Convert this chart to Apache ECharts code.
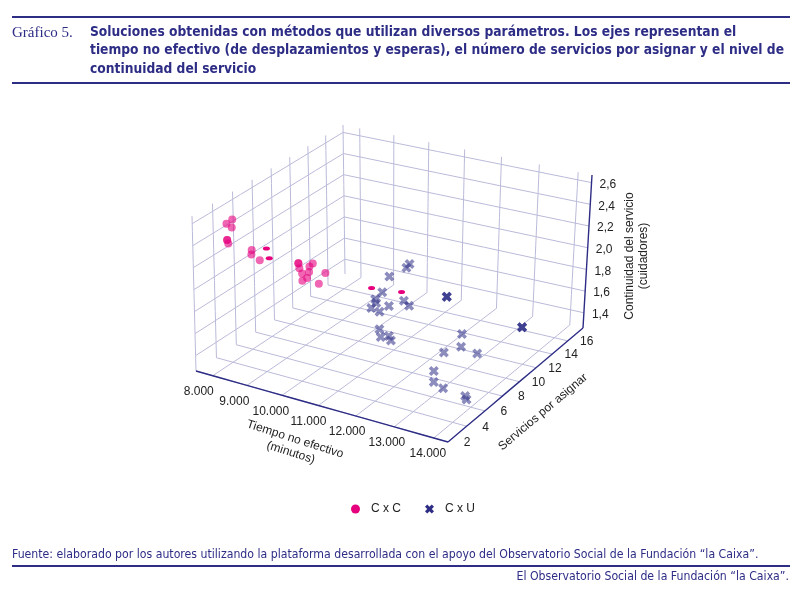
<!DOCTYPE html>
<html>
<head>
<meta charset="utf-8">
<script src="https://cdn.jsdelivr.net/npm/echarts@6/dist/echarts.min.js"></script>
<style>
html, body { margin: 0; padding: 0; background: #fff; }
#chart { width: 800px; height: 591px; }
</style>
</head>
<body>
<div id="chart"></div>
<script>
// C x C: tiempo no efectivo (min), servicios por asignar, continuidad (cuidadores)
var cxcTiempo       = [8180, 8130, 8250, 8200, 8200, 8230, 8490, 8450, 8630, 9170, 9170, 9470, 9170, 9430, 9390, 9220, 9360, 9280, 9690, 9610];
var cxcServicios    = [3.6, 3.2, 3.3, 3.0, 3.0, 3.0, 4.4, 4.5, 4.7, 6.7, 6.7, 7.1, 6.8, 6.9, 7.0, 6.9, 6.9, 6.7, 7.6, 7.2];
var cxcContinuidad  = [2.60, 2.58, 2.55, 2.45, 2.45, 2.42, 2.30, 2.25, 2.20, 2.10, 2.10, 2.10, 2.05, 2.08, 2.02, 2.00, 1.97, 1.95, 2.00, 1.92];
// C x C, puntos que aparecen aplastados
var cxcPlanoTiempo      = [8740, 8760, 10440, 11170];
var cxcPlanoServicios   = [5.0, 5.2, 9.7, 10.1];
var cxcPlanoContinuidad = [2.30, 2.20, 1.80, 1.80];
// C x U
var cxuTiempo      = [10515, 10500, 10140, 10140, 10040, 10170, 10055, 10340, 10530, 10850, 10950, 11930, 11930, 11930, 10540, 10730, 10930, 11040, 12810, 12840, 12640, 13330, 12640, 12830, 13170, 13780, 13840, 13970, 13970, 13970];
var cxuServicios   = [13.7, 13.4, 12.9, 12.1, 11.7, 11.3, 11.2, 11.0, 11.3, 11.7, 11.9, 12.1, 12.1, 12.1, 10.2, 9.6, 9.7, 9.5, 10.1, 9.9, 8.8, 9.6, 7.7, 6.9, 6.5, 6.3, 6.2, 11.9, 11.9, 11.9];
var cxuContinuidad = [1.80, 1.78, 1.70, 1.60, 1.55, 1.55, 1.50, 1.50, 1.55, 1.60, 1.55, 1.70, 1.70, 1.70, 1.40, 1.38, 1.40, 1.38, 1.55, 1.45, 1.45, 1.45, 1.35, 1.32, 1.32, 1.32, 1.30, 1.60, 1.60, 1.60];

var xTicks = [8000, 9000, 10000, 11000, 12000, 13000, 14000];
var xTickLabels = ['8.000', '9.000', '10.000', '11.000', '12.000', '13.000', '14.000'];
var yTicks = [2, 4, 6, 8, 10, 12, 14, 16];
var zTicks = [1.4, 1.6, 1.8, 2.0, 2.2, 2.4, 2.6];
var zTickLabels = ['1,4', '1,6', '1,8', '2,0', '2,2', '2,4', '2,6'];

var X_MIN = 7500, X_MAX = 14350;
var Y_MIN = 2, Y_MAX = 18;
var Z_MIN = 1.26, Z_MAX = 2.67;

var NAVY = '#2e2d86';
var PINK = '#e6007e';
var GRID = '#babad9';
var NARROW = '"Liberation Sans Narrow", "DejaVu Sans Condensed", "Liberation Sans", sans-serif';
var SANS = '"Liberation Sans", Arial, sans-serif';
var CROSS = 'path://M2.5,0 L5,2.5 L7.5,0 L10,2.5 L7.5,5 L10,7.5 L7.5,10 L5,7.5 L2.5,10 L0,7.5 L2.5,5 L0,2.5 Z';

// caja 3D en pantalla: suelo y techo como cuadrilateros en perspectiva
function homography(q) {
    var x0 = q[0][0], y0 = q[0][1], x1 = q[1][0], y1 = q[1][1];
    var x2 = q[2][0], y2 = q[2][1], x3 = q[3][0], y3 = q[3][1];
    var dx1 = x1 - x2, dx2 = x3 - x2, dx3 = x0 - x1 + x2 - x3;
    var dy1 = y1 - y2, dy2 = y3 - y2, dy3 = y0 - y1 + y2 - y3;
    var den = dx1 * dy2 - dx2 * dy1;
    var g = (dx3 * dy2 - dx2 * dy3) / den;
    var h = (dx1 * dy3 - dx3 * dy1) / den;
    var a = x1 - x0 + g * x1, b = x3 - x0 + h * x3;
    var d = y1 - y0 + g * y1, e = y3 - y0 + h * y3;
    return function (u, v) {
        var w = g * u + h * v + 1;
        return [(a * u + b * v + x0) / w, (d * u + e * v + y0) / w];
    };
}
var floorH = homography([[196, 371], [448, 442], [583, 328], [345, 274]]);
var topH = homography([[192, 216], [453, 281], [592, 175], [343, 125]]);

function proj(u, v, w) {
    var p0 = floorH(u, v), p1 = topH(u, v);
    return [p0[0] + w * (p1[0] - p0[0]), p0[1] + w * (p1[1] - p0[1])];
}
function nx(x) { return (x - X_MIN) / (X_MAX - X_MIN); }
function ny(y) { return (y - Y_MIN) / (Y_MAX - Y_MIN); }
function nz(z) { return (z - Z_MIN) / (Z_MAX - Z_MIN); }
function toScreen(x, y, z) { return proj(nx(x), ny(y), nz(z)); }

function points(xs, ys, zs) {
    var out = [];
    for (var i = 0; i < xs.length; i++) out.push(toScreen(xs[i], ys[i], zs[i]));
    return out;
}

function seg(a, b) {
    var pts = [];
    for (var i = 0; i <= 10; i++) {
        var t = i / 10;
        pts.push(proj(a[0] + (b[0] - a[0]) * t, a[1] + (b[1] - a[1]) * t, a[2] + (b[2] - a[2]) * t));
    }
    return { coords: pts };
}

var gridLines = [];
xTicks.forEach(function (x) {
    var u = nx(x);
    gridLines.push(seg([u, 0, 0], [u, 1, 0]));   // suelo
    gridLines.push(seg([u, 1, 0], [u, 1, 1]));   // pared del fondo
});
yTicks.forEach(function (y) {
    var v = ny(y);
    gridLines.push(seg([0, v, 0], [1, v, 0]));   // suelo
    gridLines.push(seg([0, v, 0], [0, v, 1]));   // pared izquierda
});
zTicks.forEach(function (z) {
    var w = nz(z);
    gridLines.push(seg([0, 0, w], [0, 1, w]));
    gridLines.push(seg([0, 1, w], [1, 1, w]));
});
gridLines.push(seg([0, 1, 0], [0, 1, 1]));

var axisLines = [
    seg([0, 0, 0], [1, 0, 0]),
    seg([1, 0, 0], [1, 1, 0]),
    seg([1, 1, 0], [1, 1, 1])
];

var graphics = [];
function text(x, y, str, style, rot) {
    graphics.push({
        type: 'text', x: x, y: y, rotation: rot || 0, silent: true,
        style: Object.assign({ text: str, x: 0, y: 0, verticalAlign: 'middle' }, style)
    });
}
function rule(y) {
    graphics.push({ type: 'rect', silent: true, shape: { x: 12, y: y, width: 778, height: 2 }, style: { fill: NAVY } });
}

// cabecera y pie
rule(16);
rule(82);
rule(565);
text(12, 33, 'Gráfico 5.', { font: '15px "Liberation Serif", "DejaVu Serif", serif', fill: NAVY });
text(90, 32, 'Soluciones obtenidas con métodos que utilizan diversos parámetros. Los ejes representan el', { font: 'bold 13.7px ' + NARROW, fill: NAVY });
text(90, 50.5, 'tiempo no efectivo (de desplazamientos y esperas), el número de servicios por asignar y el nivel de', { font: 'bold 13.7px ' + NARROW, fill: NAVY });
text(90, 69, 'continuidad del servicio', { font: 'bold 13.7px ' + NARROW, fill: NAVY });
text(12, 555, 'Fuente: elaborado por los autores utilizando la plataforma desarrollada con el apoyo del Observatorio Social de la Fundación “la Caixa”.', { font: '12.2px ' + NARROW, fill: NAVY });
text(789, 577, 'El Observatorio Social de la Fundación “la Caixa”.', { font: '12.2px ' + NARROW, fill: NAVY, align: 'right' });

// etiquetas de los ejes
xTicks.forEach(function (x, i) {
    var p = toScreen(x, Y_MIN, Z_MIN);
    text(p[0] - 14 + 8 * i / 6, p[1] + 16, xTickLabels[i], { font: '12px ' + SANS, fill: '#222', align: 'center' });
});
yTicks.forEach(function (y) {
    var p = toScreen(X_MAX, y, Z_MIN);
    text(p[0] + 19, p[1] + 1, String(y), { font: '12px ' + SANS, fill: '#222', align: 'center' });
});
zTicks.forEach(function (z, i) {
    var p = toScreen(X_MAX, Y_MAX, z);
    text(p[0] + 8, p[1] + 2, zTickLabels[i], { font: '12px ' + SANS, fill: '#222', align: 'left' });
});
text(293, 446, 'Tiempo no efectivo\n(minutos)', { font: '12px ' + SANS, fill: '#222', align: 'center', lineHeight: 14 }, -0.31);
text(543, 412, 'Servicios por asignar', { font: '12px ' + SANS, fill: '#222', align: 'center' }, 0.70);
text(637, 256, 'Continuidad del servicio\n(cuidadores)', { font: '12px ' + SANS, fill: '#222', align: 'center', lineHeight: 14 }, Math.PI / 2);

var chart = echarts.init(document.getElementById('chart'));
chart.setOption({
    animation: false,
    grid: { left: 0, right: 0, top: 0, bottom: 0 },
    xAxis: { type: 'value', min: 0, max: 800, show: false },
    yAxis: { type: 'value', min: 0, max: 591, inverse: true, show: false },
    legend: {
        top: 498,
        left: 346,
        itemGap: 24,
        itemWidth: 9,
        itemHeight: 9,
        textStyle: { fontFamily: SANS, fontSize: 12, color: '#222', padding: [0, 0, 0, 6] },
        data: [
            { name: 'C x C', icon: 'circle', itemStyle: { color: PINK, opacity: 1 } },
            { name: 'C x U', icon: CROSS, itemStyle: { color: NAVY, opacity: 1 } }
        ]
    },
    graphic: graphics,
    series: [
        {
            type: 'lines', coordinateSystem: 'cartesian2d', polyline: true, silent: true, z: 1,
            lineStyle: { color: GRID, width: 1, opacity: 1 },
            data: gridLines
        },
        {
            type: 'lines', coordinateSystem: 'cartesian2d', polyline: true, silent: true, z: 2,
            lineStyle: { color: NAVY, width: 1.4, opacity: 1 },
            data: axisLines
        },
        {
            name: 'C x C', type: 'scatter', z: 3, symbol: 'circle', symbolSize: 8,
            itemStyle: { color: PINK, opacity: 0.6 },
            data: points(cxcTiempo, cxcServicios, cxcContinuidad)
        },
        {
            name: 'C x C', type: 'scatter', z: 3, symbol: 'circle', symbolSize: [7, 4],
            itemStyle: { color: PINK, opacity: 1 },
            data: points(cxcPlanoTiempo, cxcPlanoServicios, cxcPlanoContinuidad)
        },
        {
            name: 'C x U', type: 'scatter', z: 3, symbol: CROSS, symbolSize: 10,
            itemStyle: { color: NAVY, opacity: 0.55 },
            data: points(cxuTiempo, cxuServicios, cxuContinuidad)
        }
    ]
});
</script>
</body>
</html>
